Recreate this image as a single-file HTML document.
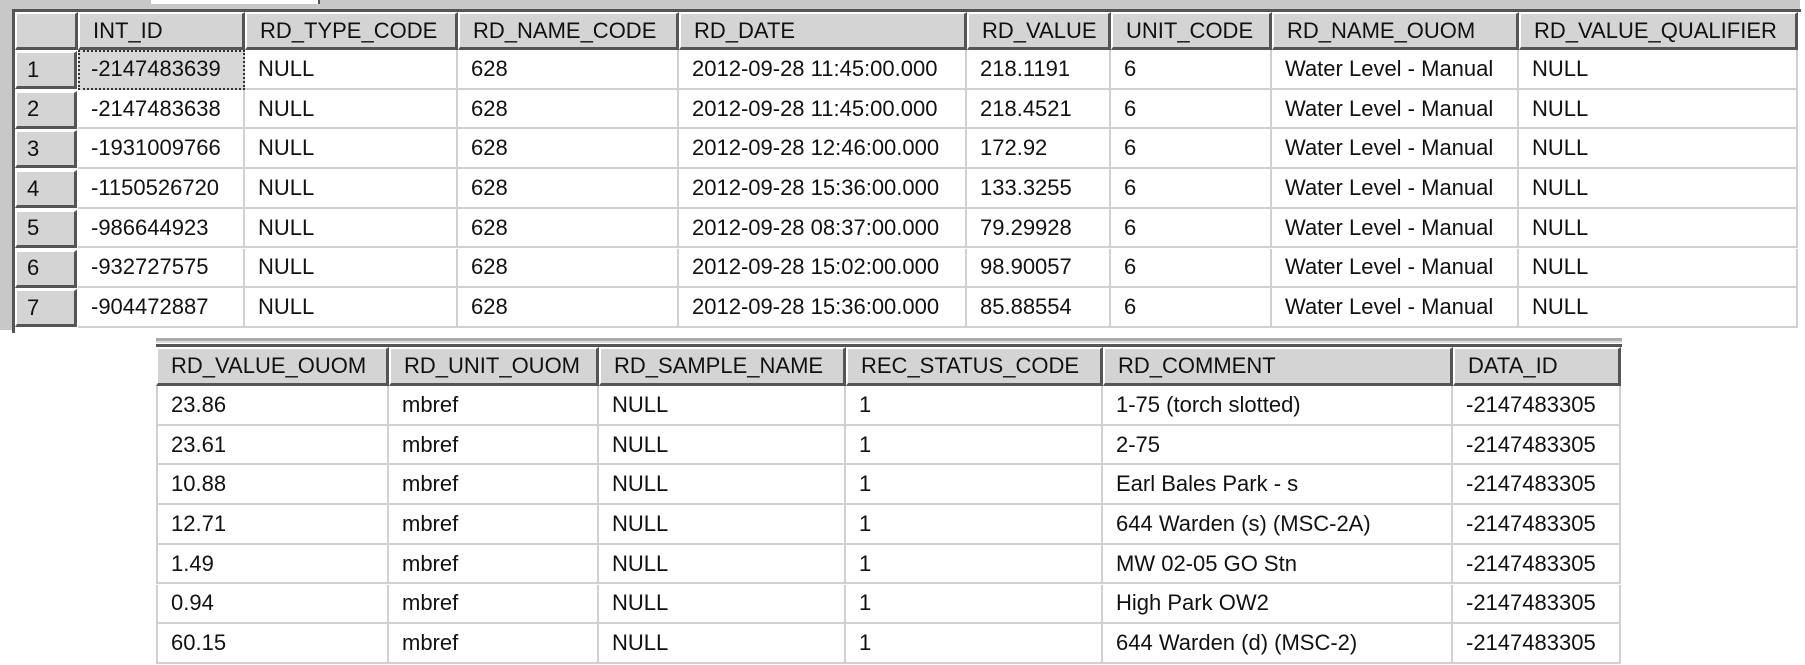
<!DOCTYPE html>
<html><head><meta charset="utf-8">
<style>
html,body{margin:0;padding:0;background:#fff;width:1805px;height:665px;overflow:hidden;position:relative;font-family:"Liberation Sans",sans-serif;}
.c{position:absolute;box-sizing:border-box;font-size:22px;color:#111;white-space:nowrap;overflow:hidden;display:flex;align-items:center;padding-left:13px;}
.h{background:#d4d4d4;border-right:3px solid #555;border-bottom:3px solid #555;border-top:2px solid #fff;border-left:2px solid #fff;}
.d{background:#fff;border-right:2px solid #d0d0d0;border-bottom:2px solid #d0d0d0;}
.rh{background:#d4d4d4;border-right:3px solid #555;border-bottom:3px solid #555;border-top:2px solid #fff;border-left:2px solid #fff;padding-left:10px;}
.sel{background:#d8d8d8;outline:2px dotted #333;outline-offset:-2px;}
</style></head>
<body>
<div style="position:absolute;left:0;top:0;width:1800px;height:330px;background:#c8c8c8;"></div>
<div style="position:absolute;left:151px;top:0;width:167px;height:4px;background:#fff;border-right:2px solid #555;"></div>
<div style="position:absolute;left:12px;top:9px;width:1786px;height:321px;background:#fff;border-top:3px solid #555;border-left:3px solid #555;"></div>
<div style="position:absolute;left:156px;top:338px;width:1466px;height:3px;background:#aaa;border-bottom:2px solid #ddd;"></div>
<div style="position:absolute;left:156px;top:344px;width:1466px;height:3px;background:#555;"></div>
<div id="root"></div>
<script>
const topCols=["INT_ID","RD_TYPE_CODE","RD_NAME_CODE","RD_DATE","RD_VALUE","UNIT_CODE","RD_NAME_OUOM","RD_VALUE_QUALIFIER"];
const topEdges=[78,245,458,679,967,1111,1272,1519,1798];
const topRows=[
["-2147483639","NULL","628","2012-09-28 11:45:00.000","218.1191","6","Water Level - Manual","NULL"],
["-2147483638","NULL","628","2012-09-28 11:45:00.000","218.4521","6","Water Level - Manual","NULL"],
["-1931009766","NULL","628","2012-09-28 12:46:00.000","172.92","6","Water Level - Manual","NULL"],
["-1150526720","NULL","628","2012-09-28 15:36:00.000","133.3255","6","Water Level - Manual","NULL"],
["-986644923","NULL","628","2012-09-28 08:37:00.000","79.29928","6","Water Level - Manual","NULL"],
["-932727575","NULL","628","2012-09-28 15:02:00.000","98.90057","6","Water Level - Manual","NULL"],
["-904472887","NULL","628","2012-09-28 15:36:00.000","85.88554","6","Water Level - Manual","NULL"]];
const botCols=["RD_VALUE_OUOM","RD_UNIT_OUOM","RD_SAMPLE_NAME","REC_STATUS_CODE","RD_COMMENT","DATA_ID"];
const botEdges=[156,389,599,846,1103,1453,1621];
const botRows=[
["23.86","mbref","NULL","1","1-75 (torch slotted)","-2147483305"],
["23.61","mbref","NULL","1","2-75","-2147483305"],
["10.88","mbref","NULL","1","Earl Bales Park - s","-2147483305"],
["12.71","mbref","NULL","1","644 Warden (s) (MSC-2A)","-2147483305"],
["1.49","mbref","NULL","1","MW 02-05 GO Stn","-2147483305"],
["0.94","mbref","NULL","1","High Park OW2","-2147483305"],
["60.15","mbref","NULL","1","644 Warden (d) (MSC-2)","-2147483305"]];
const root=document.getElementById('root');
function cell(cls,x,y,w,h,t){const e=document.createElement('div');e.className='c '+cls;e.style.left=x+'px';e.style.top=y+'px';e.style.width=w+'px';e.style.height=h+'px';e.textContent=t;root.appendChild(e);return e;}
let e=cell('h',15,12,63,38,'');


topCols.forEach((c,i)=>{const el=cell('h',topEdges[i],12,topEdges[i+1]-topEdges[i],38,c);

});
topRows.forEach((r,j)=>{const y=50+j*39.7;
const rh=cell('rh',15,y+1,62,38,String(j+1));


r.forEach((v,i)=>{const el=cell('d'+(i===0&&j===0?' sel':''),topEdges[i],y,topEdges[i+1]-topEdges[i],39.7,v);

});});
botCols.forEach((c,i)=>{const el=cell('h',botEdges[i],347,botEdges[i+1]-botEdges[i],39,c);

});
botRows.forEach((r,j)=>{const y=386+j*39.7;
r.forEach((v,i)=>{const el=cell('d',botEdges[i],y,botEdges[i+1]-botEdges[i],39.7,v);
el.style.borderLeft=i===0?'2px solid #d0d0d0':'';

});});
</script>
</body></html>
